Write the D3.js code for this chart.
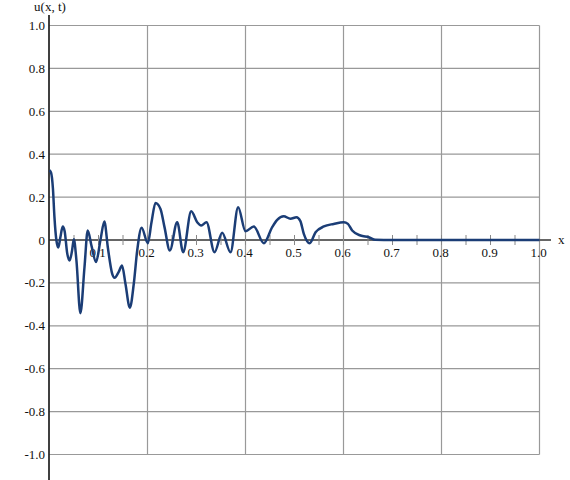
<!DOCTYPE html>
<html><head><meta charset="utf-8">
<script src="https://cdn.jsdelivr.net/npm/d3@7"></script>
<style>body{margin:0;background:#fff}text{font-family:"Liberation Serif","Times New Roman",serif;font-size:13px;fill:#111}</style>
</head><body><svg id="c" width="570" height="480"></svg>
<script>
const xs = [0, 0.003, 0.007, 0.010, 0.014, 0.018, 0.022, 0.027, 0.031, 0.036, 0.041, 0.046, 0.0497, 0.055, 0.063, 0.0714, 0.078, 0.086, 0.095, 0.104, 0.112, 0.119, 0.128, 0.1327, 0.141, 0.148, 0.155, 0.164, 0.172, 0.179, 0.188, 0.2007, 0.208, 0.2163, 0.2265, 0.2347, 0.2456, 0.2606, 0.2728, 0.2892, 0.3014, 0.3096, 0.3204, 0.3367, 0.3524, 0.3694, 0.385, 0.4, 0.417, 0.4374, 0.4545, 0.4647, 0.478, 0.4918, 0.504, 0.512, 0.519, 0.531, 0.543, 0.56, 0.58, 0.6006, 0.609, 0.6177, 0.6347, 0.6517, 0.665, 0.7, 1.0];
const us = [0.325, 0.315, 0.24, 0.11, 0.0, -0.035, 0.01, 0.063, 0.04, -0.06, -0.096, -0.05, 0.003, -0.096, -0.341, -0.127, 0.044, -0.03, -0.103, 0.0, 0.086, -0.034, -0.158, -0.176, -0.15, -0.119, -0.204, -0.316, -0.204, -0.049, 0.057, -0.015, 0.08, 0.172, 0.145, 0.06, -0.049, 0.083, -0.057, 0.134, 0.083, 0.068, 0.083, -0.057, 0.034, -0.057, 0.153, 0.041, 0.063, -0.015, 0.06, 0.094, 0.111, 0.099, 0.106, 0.088, 0.029, -0.015, 0.036, 0.063, 0.075, 0.083, 0.075, 0.044, 0.021, 0.013, 0.001, 0, 0];
const xTickLabels = ["0.1","0.2","0.3","0.4","0.5","0.6","0.7","0.8","0.9","1.0"];
const yTickLabels = ["1.0","0.8","0.6","0.4","0.2","0","-0.2","-0.4","-0.6","-0.8","-1.0"];

const svg = d3.select("#c");
const x = d3.scaleLinear().domain([0,1]).range([49.5,539.5]);
const y = d3.scaleLinear().domain([-1,1]).range([454.5,25.5]);

// grid
const gx = d3.range(0.2,1.01,0.2);
svg.append("g").selectAll("line").data(gx).join("line")
  .attr("x1",d=>x(d)).attr("x2",d=>x(d)).attr("y1",y(1)).attr("y2",y(-1))
  .attr("stroke","#999").attr("stroke-width",1.2);
const gy = yTickLabels.map(Number).filter(v=>v!==0);
svg.append("g").selectAll("line").data(gy).join("line")
  .attr("x1",x(0)).attr("x2",x(1)).attr("y1",d=>y(d)).attr("y2",d=>y(d))
  .attr("stroke","#999").attr("stroke-width",1.2);

// x axis line and ticks
svg.append("line").attr("x1",x(0)).attr("x2",551).attr("y1",y(0)).attr("y2",y(0))
  .attr("stroke","#666").attr("stroke-width",2);
svg.append("g").selectAll("line").data(d3.range(1,20).map(i=>i*0.05)).join("line")
  .attr("x1",d=>x(d)).attr("x2",d=>x(d)).attr("y1",y(0)-5).attr("y2",y(0)+5)
  .attr("stroke","#888").attr("stroke-width",1);
svg.append("g").selectAll("text").data(xTickLabels).join("text")
  .attr("x",d=>x(+d)-1).attr("y",y(0)+17).attr("text-anchor","middle").text(d=>d);
svg.append("text").attr("x",558).attr("y",y(0)+4).text("x");

// y axis
svg.append("line").attr("x1",x(0)-0.5).attr("x2",x(0)-0.5).attr("y1",15).attr("y2",480)
  .attr("stroke","#000").attr("stroke-width",1.5);
svg.append("g").selectAll("text").data(yTickLabels).join("text")
  .attr("x",45).attr("y",d=>y(+d)+4.5).attr("text-anchor","end").text(d=>d);
svg.append("text").attr("x",50).attr("y",11).attr("text-anchor","middle").text("u(x, t)");

// curve
const pts = xs.map((v,i)=>[v,us[i]]);
svg.append("path").datum(pts)
  .attr("d",d3.line().x(d=>x(d[0])).y(d=>y(d[1])).curve(d3.curveMonotoneX))
  .attr("fill","none").attr("stroke","#1b3d76").attr("stroke-width",2.5).attr("stroke-linejoin","round");
</script></body></html>
